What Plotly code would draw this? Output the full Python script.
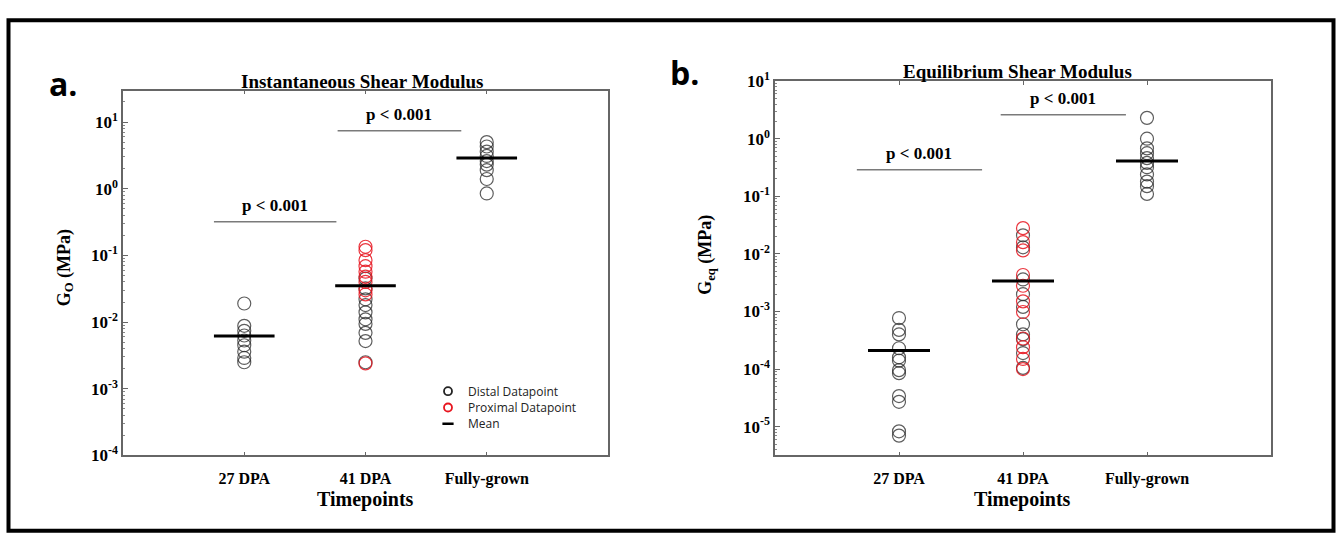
import math
import plotly.graph_objects as go

# ---------------- data ----------------
categories = ["27 DPA", "41 DPA", "Fully-grown"]
cat_pos = [1, 2, 3]

# Panel a: instantaneous shear modulus G_O (MPa)
a_distal = {
    "27 DPA": [0.019, 0.0088, 0.0074, 0.0063, 0.0053, 0.0045, 0.0036, 0.0029, 0.0025],
    "41 DPA": [0.045, 0.032, 0.022, 0.018, 0.014, 0.011, 0.0094, 0.0069, 0.0052, 0.0025],
    "Fully-grown": [5.0, 4.3, 3.6, 3.1, 2.6, 2.3, 1.9, 1.4, 0.85],
}
a_proximal = {
    "41 DPA": [0.135, 0.12, 0.085, 0.069, 0.057, 0.048, 0.040, 0.030, 0.026, 0.0024],
}
a_mean = [0.0062, 0.035, 2.9]

# Panel b: equilibrium shear modulus G_eq (MPa)
b_distal = {
    "27 DPA": [0.00077, 0.00048, 0.00040, 0.00023, 0.00016, 0.00014, 0.000096,
               0.000085, 3.4e-5, 2.7e-5, 8.3e-6, 7.0e-6],
    "41 DPA": [0.021, 0.013, 0.0036, 0.0020, 0.0012, 0.0006, 0.0004, 0.00033,
               0.00019, 0.000105],
    "Fully-grown": [2.3, 1.0, 0.68, 0.56, 0.46, 0.38, 0.32, 0.24, 0.18, 0.15, 0.11],
}
b_proximal = {
    "41 DPA": [0.028, 0.016, 0.0115, 0.0043, 0.0028, 0.0015, 0.00098, 0.00034,
               0.00024, 0.00015, 0.0001],
}
b_mean = [0.00021, 0.0034, 0.41]

# significance bars: (x start, x end, y level, label)
a_bar_x0 = [0.75, 1.77]
a_bar_x1 = [1.76, 2.79]
a_bar_y = [0.32, 7.4]
b_bar_x0 = [0.66, 1.82]
b_bar_x1 = [1.67, 2.83]
b_bar_y = [0.29, 2.6]
bar_labels = ["p < 0.001", "p < 0.001"]

a_yticks = [1e-4, 1e-3, 1e-2, 1e-1, 1e0, 1e1]
a_yticktext = ["10<sup>-4</sup>", "10<sup>-3</sup>", "10<sup>-2</sup>",
               "10<sup>-1</sup>", "10<sup>0</sup>", "10<sup>1</sup>"]
b_yticks = [1e-5, 1e-4, 1e-3, 1e-2, 1e-1, 1e0, 1e1]
b_yticktext = ["10<sup>-5</sup>", "10<sup>-4</sup>", "10<sup>-3</sup>", "10<sup>-2</sup>",
               "10<sup>-1</sup>", "10<sup>0</sup>", "10<sup>1</sup>"]

legend_names = ["Distal Datapoint", "Proximal Datapoint", "Mean"]

# ---------------- styling ----------------
W, H = 1342, 549
SERIF = "Liberation Serif"
BLACK_C = "rgba(40,40,40,0.75)"
RED_C = "rgba(230,20,30,0.85)"
AXIS_C = "#666666"
MEAN_HALF = 0.25
MSIZE = 13

fig = go.Figure()


def collect(d):
    xs, ys = [], []
    for c, p in zip(categories, cat_pos):
        for v in d.get(c, []):
            xs.append(p)
            ys.append(v)
    return xs, ys


def add_panel(distal, proximal, means, bx0, bx1, by, xa, ya):
    xs, ys = collect(distal)
    fig.add_trace(go.Scatter(
        x=xs, y=ys, mode="markers", xaxis=xa, yaxis=ya,
        name=legend_names[0], showlegend=False,
        marker=dict(symbol="circle-open", size=MSIZE, color=BLACK_C,
                    line=dict(width=1.2, color=BLACK_C)),
    ))
    xs, ys = collect(proximal)
    fig.add_trace(go.Scatter(
        x=xs, y=ys, mode="markers", xaxis=xa, yaxis=ya,
        name=legend_names[1], showlegend=False,
        marker=dict(symbol="circle-open", size=MSIZE, color=RED_C,
                    line=dict(width=1.2, color=RED_C)),
    ))
    mx, my = [], []
    for p, m in zip(cat_pos, means):
        mx += [p - MEAN_HALF, p + MEAN_HALF, None]
        my += [m, m, None]
    fig.add_trace(go.Scatter(
        x=mx, y=my, mode="lines", xaxis=xa, yaxis=ya, showlegend=False,
        name=legend_names[2], line=dict(color="black", width=3), hoverinfo="skip",
    ))
    sx, sy = [], []
    for x0, x1, y in zip(bx0, bx1, by):
        sx += [x0, x1, None]
        sy += [y, y, None]
    fig.add_trace(go.Scatter(
        x=sx, y=sy, mode="lines", xaxis=xa, yaxis=ya, showlegend=False,
        line=dict(color="#7a7a7a", width=1.5), hoverinfo="skip",
    ))
    axref = "x" if xa == "x" else "x2"
    ayref = "y" if ya == "y" else "y2"
    for x0, x1, y, t in zip(bx0, bx1, by, bar_labels):
        fig.add_annotation(
            x=(x0 + x1) / 2, y=math.log10(y), xref=axref, yref=ayref,
            text=t, showarrow=False, yanchor="bottom", yshift=5,
            font=dict(family=SERIF, size=17, color="black", weight="bold"),
        )


add_panel(a_distal, a_proximal, a_mean, a_bar_x0, a_bar_x1, a_bar_y, "x", "y")
add_panel(b_distal, b_proximal, b_mean, b_bar_x0, b_bar_x1, b_bar_y, "x2", "y2")

# legend entries (one small legend per entry so the spacing stays tight)
fig.add_trace(go.Scatter(x=[None], y=[None], mode="markers", name=legend_names[0],
                         legend="legend",
                         marker=dict(symbol="circle-open", size=8, color="#222",
                                     line=dict(width=1.8, color="#222"))))
fig.add_trace(go.Scatter(x=[None], y=[None], mode="markers", name=legend_names[1],
                         legend="legend2",
                         marker=dict(symbol="circle-open", size=8, color="#e8141e",
                                     line=dict(width=1.8, color="#e8141e"))))
fig.add_trace(go.Scatter(x=[None], y=[None], mode="markers", name=legend_names[2],
                         legend="legend3",
                         marker=dict(symbol="line-ew-open", size=8, color="black",
                                     line=dict(width=2.5, color="black"))))

xaxis_common = dict(
    range=[0, 4], tickvals=cat_pos, ticktext=categories,
    ticks="inside", ticklen=4, tickcolor=AXIS_C, showgrid=False, zeroline=False,
    showline=True, linecolor=AXIS_C, linewidth=1.5, mirror="ticks",
    ticklabelstandoff=8,
    tickfont=dict(family=SERIF, size=16, color="black", weight="bold"),
)
yaxis_common = dict(
    type="log", ticks="inside", ticklen=5, tickcolor=AXIS_C, showgrid=False,
    zeroline=False, showline=True, linecolor=AXIS_C, linewidth=1.5, mirror=True,
    tickfont=dict(family=SERIF, size=17, color="black", weight="bold"),
    minor=dict(ticks="inside", ticklen=2.5, tickcolor="#888888", dtick="D1", showgrid=False),
)

leg_common = dict(xanchor="left", yanchor="middle", bgcolor="rgba(255,255,255,0)",
                  borderwidth=0, itemwidth=30,
                  font=dict(family="Open Sans", size=12, color="#222222"))
LEG_X = 428 / W

fig.update_layout(
    width=W, height=H,
    margin=dict(l=0, r=0, t=0, b=0),
    paper_bgcolor="white", plot_bgcolor="white",
    xaxis=dict(domain=[123 / W, 608 / W], anchor="y", **xaxis_common),
    yaxis=dict(domain=[1 - 462 / H, 1 - 82 / H], anchor="x",
               range=[-4, 1.47], tickvals=a_yticks, ticktext=a_yticktext, **yaxis_common),
    xaxis2=dict(domain=[775 / W, 1271 / W], anchor="y2", **xaxis_common),
    yaxis2=dict(domain=[1 - 462 / H, 1 - 72 / H], anchor="x2",
                range=[-5.5, 1.0], tickvals=b_yticks, ticktext=b_yticktext, **yaxis_common),
    showlegend=True,
    legend=dict(x=LEG_X, y=1 - 395 / H, **leg_common),
    legend2=dict(x=LEG_X, y=1 - 412 / H, **leg_common),
    legend3=dict(x=LEG_X, y=1 - 429 / H, **leg_common),
)

# titles, axis titles
texts = [
    (362, 72, "Instantaneous Shear Modulus", 19),
    (1017, 62, "Equilibrium Shear Modulus", 19),
    (365, 508, "Timepoints", 20),
    (1022, 508, "Timepoints", 20),
]
for px, py, t, sz in texts:
    fig.add_annotation(x=px / W, y=1 - py / H, xref="paper", yref="paper", text=t,
                       showarrow=False, xanchor="center", yanchor="middle",
                       font=dict(family=SERIF, size=sz, color="black", weight="bold"))

fig.add_annotation(x=65 / W, y=1 - 267 / H, xref="paper", yref="paper",
                   text="G<sub>O</sub> (MPa)", showarrow=False, textangle=-90,
                   xanchor="center", yanchor="middle",
                   font=dict(family=SERIF, size=18, color="black", weight="bold"))
fig.add_annotation(x=707 / W, y=1 - 253 / H, xref="paper", yref="paper",
                   text="G<sub>eq</sub> (MPa)", showarrow=False, textangle=-90,
                   xanchor="center", yanchor="middle",
                   font=dict(family=SERIF, size=18, color="black", weight="bold"))

fig.add_annotation(x=63 / W, y=1 - 74 / H, xref="paper", yref="paper", text="a.",
                   showarrow=False, xanchor="center", yanchor="middle",
                   font=dict(family="Open Sans", size=32, color="black", weight="bold"))
fig.add_annotation(x=684 / W, y=1 - 63 / H, xref="paper", yref="paper", text="b.",
                   showarrow=False, xanchor="center", yanchor="middle",
                   font=dict(family="Open Sans", size=32, color="black", weight="bold"))

# outer frame
fig.add_shape(type="rect", xref="paper", yref="paper",
              x0=8.5 / W, x1=1 - 8.5 / W, y0=8.5 / H, y1=1 - 8.5 / H,
              line=dict(color="black", width=4), fillcolor="rgba(0,0,0,0)")

fig.write_html("out.html")
